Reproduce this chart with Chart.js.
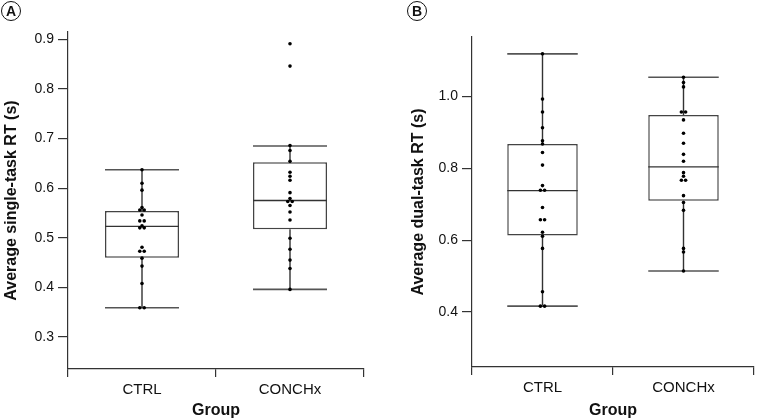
<!DOCTYPE html>
<html>
<head>
<meta charset="utf-8">
<script src="https://cdn.jsdelivr.net/npm/chart.js@4.4.1/dist/chart.umd.min.js"></script>
<style>
  html, body { margin: 0; padding: 0; background: #fff; }
  #wrap { position: relative; width: 758px; height: 420px; overflow: hidden; }
  .panel { position: absolute; top: 0; height: 420px; }
  .tag { position: absolute; top: 1px; width: 18px; height: 18px; border: 1.6px solid #111; border-radius: 50%;
         font: bold 14px "Liberation Sans", Arial, sans-serif; line-height: 18px; text-align: center; color: #111; }
</style>
</head>
<body>
<div id="wrap">
  <div class="panel" style="left:0;width:379px"><canvas id="cA" width="379" height="420"></canvas></div>
  <div class="panel" style="left:379px;width:379px"><canvas id="cB" width="379" height="420"></canvas></div>
  <div class="tag" style="left:1px">A</div>
  <div class="tag" style="left:407px">B</div>
</div>
<script>
// ---- data ----
const categories = ["CTRL", "CONCHx"];

// Panel A: average single-task RT (s)
const singleCTRL   = [0.637, 0.610, 0.596, 0.561, 0.556, 0.556, 0.546, 0.534, 0.534, 0.524, 0.520, 0.520, 0.481, 0.473, 0.473, 0.459, 0.443, 0.408, 0.359, 0.359];
const singleCONCHx = [0.891, 0.846, 0.686, 0.676, 0.654, 0.632, 0.624, 0.616, 0.591, 0.579, 0.573, 0.573, 0.565, 0.552, 0.536, 0.499, 0.477, 0.455, 0.438, 0.396];
// box stats: [whiskerLow, Q1, median, Q3, whiskerHigh]
const singleBoxCTRL   = [0.359, 0.460, 0.523, 0.554, 0.637];
const singleBoxCONCHx = [0.396, 0.517, 0.575, 0.652, 0.685];
const singleTicks = [0.3, 0.4, 0.5, 0.6, 0.7, 0.8, 0.9];

// Panel B: average dual-task RT (s)
const dualCTRL   = [1.119, 0.993, 0.957, 0.913, 0.877, 0.868, 0.844, 0.809, 0.752, 0.739, 0.739, 0.691, 0.657, 0.657, 0.622, 0.611, 0.577, 0.456, 0.416, 0.416];
const dualCONCHx = [1.054, 1.039, 1.027, 0.957, 0.957, 0.935, 0.898, 0.870, 0.839, 0.820, 0.788, 0.778, 0.767, 0.767, 0.724, 0.705, 0.683, 0.577, 0.567, 0.514];
const dualBoxCTRL   = [0.416, 0.613, 0.738, 0.868, 1.119];
const dualBoxCONCHx = [0.514, 0.710, 0.804, 0.949, 1.054];
const dualTicks = [0.4, 0.6, 0.8, 1.0];

const FONT = '"Liberation Sans", Arial, Helvetica, sans-serif';

// place equal values side by side (simple dot-swarm)
function swarm(values, gi, step) {
  const out = [], used = values.map(() => false);
  values.forEach((v, i) => {
    if (used[i]) return;
    const cl = [];
    values.forEach((w, j) => { if (!used[j] && Math.abs(w - v) < 0.0015) { cl.push(j); used[j] = true; } });
    cl.forEach((j, k) => out.push({ x: gi + (k - (cl.length - 1) / 2) * step, y: values[j] }));
  });
  return out;
}

const boxPlugin = {
  id: 'boxParts',
  afterDatasetDraw(chart, args) {
    if (args.meta.type !== 'bar') return;
    const stats = chart.config.options.plugins.boxParts.stats;
    const y = chart.scales.y, ctx = chart.ctx;
    ctx.save();
    args.meta.data.forEach((el, i) => {
      const { x, width } = el.getProps(['x', 'width'], true);
      const s = stats[i];
      const pLo = y.getPixelForValue(s[0]), pQ1 = y.getPixelForValue(s[1]),
            pMed = y.getPixelForValue(s[2]), pQ3 = y.getPixelForValue(s[3]),
            pHi = y.getPixelForValue(s[4]);
      const l = x - width / 2, r = x + width / 2;
      ctx.strokeStyle = '#333'; ctx.lineWidth = 1.4;
      ctx.beginPath();
      ctx.moveTo(x, pQ3); ctx.lineTo(x, pHi);
      ctx.moveTo(x, pQ1); ctx.lineTo(x, pLo);
      ctx.stroke();
      ctx.strokeStyle = '#555'; ctx.lineWidth = 1.6;
      ctx.beginPath();
      ctx.moveTo(l, pHi); ctx.lineTo(r, pHi);
      ctx.moveTo(l, pLo); ctx.lineTo(r, pLo);
      ctx.stroke();
      ctx.strokeStyle = '#333'; ctx.lineWidth = 1.4;
      ctx.beginPath();
      ctx.moveTo(l, pMed); ctx.lineTo(r, pMed);
      ctx.stroke();
    });
    ctx.restore();
  }
};

function makeChart(id, cfg) {
  const points = swarm(cfg.ctrl, 0, 0.03).concat(swarm(cfg.conc, 1, 0.03));
  return new Chart(document.getElementById(id), {
    data: {
      labels: categories,
      datasets: [
        {
          type: 'bar', order: 2, xAxisID: 'x', yAxisID: 'y', grouped: false,
          data: [[cfg.boxC[1], cfg.boxC[3]], [cfg.boxX[1], cfg.boxX[3]]],
          backgroundColor: '#fff', borderColor: '#444', borderWidth: 1.5, borderSkipped: false,
          categoryPercentage: 1, barPercentage: 0.5
        },
        {
          type: 'scatter', order: 1, xAxisID: 'xs', yAxisID: 'y',
          data: points, pointRadius: 1.8, backgroundColor: '#000', borderWidth: 0
        }
      ]
    },
    options: {
      responsive: false, animation: false, events: [],
      layout: { padding: { top: cfg.top, right: cfg.right, left: 0, bottom: 0 } },
      plugins: { legend: { display: false }, tooltip: { enabled: false },
                 boxParts: { stats: [cfg.boxC, cfg.boxX] } },
      scales: {
        x: {
          type: 'category', offset: true,
          grid: { offset: true, drawOnChartArea: false, drawTicks: true, tickLength: 8, color: '#333', lineWidth: 1.2 },
          border: { display: true, color: '#333', width: 1.2 },
          ticks: { font: { family: FONT, size: 15 }, color: '#111', padding: 4 },
          title: { display: true, text: 'Group', font: { family: FONT, size: 16, weight: 'bold' }, color: '#111', padding: { top: 4, bottom: 0 } },
          afterFit(s) { s.height = cfg.xh; }
        },
        xs: { type: 'linear', min: -0.5, max: 1.5, display: false },
        y: {
          type: 'linear', min: cfg.min, max: cfg.max,
          afterBuildTicks(s) { s.ticks = cfg.ticks.map(v => ({ value: v })); },
          grid: { drawOnChartArea: false, drawTicks: true, tickLength: 10, color: '#333', lineWidth: 1.2 },
          border: { display: true, color: '#333', width: 1.2 },
          ticks: { font: { family: FONT, size: 14 }, color: '#111', padding: 4,
                   callback: v => v.toFixed(1) },
          title: { display: true, text: cfg.title, font: { family: FONT, size: 16, weight: 'bold' }, color: '#111', padding: { top: cfg.tpad, bottom: 0 } },
          afterFit(s) { s.width = cfg.yw; }
        }
      }
    },
    plugins: [boxPlugin]
  });
}

makeChart('cA', { ctrl: singleCTRL, conc: singleCONCHx, boxC: singleBoxCTRL, boxX: singleBoxCONCHx,
  ticks: singleTicks, min: 0.2356, max: 0.9147, title: 'Average single-task RT (s)',
  top: 32, right: 15, xh: 51, yw: 68, tpad: 2 });
makeChart('cB', { ctrl: dualCTRL, conc: dualCONCHx, boxC: dualBoxCTRL, boxX: dualBoxCONCHx,
  ticks: dualTicks, min: 0.2465, max: 1.166, title: 'Average dual-task RT (s)',
  top: 37, right: 1, xh: 53, yw: 93, tpad: 30 });
</script>
</body>
</html>
